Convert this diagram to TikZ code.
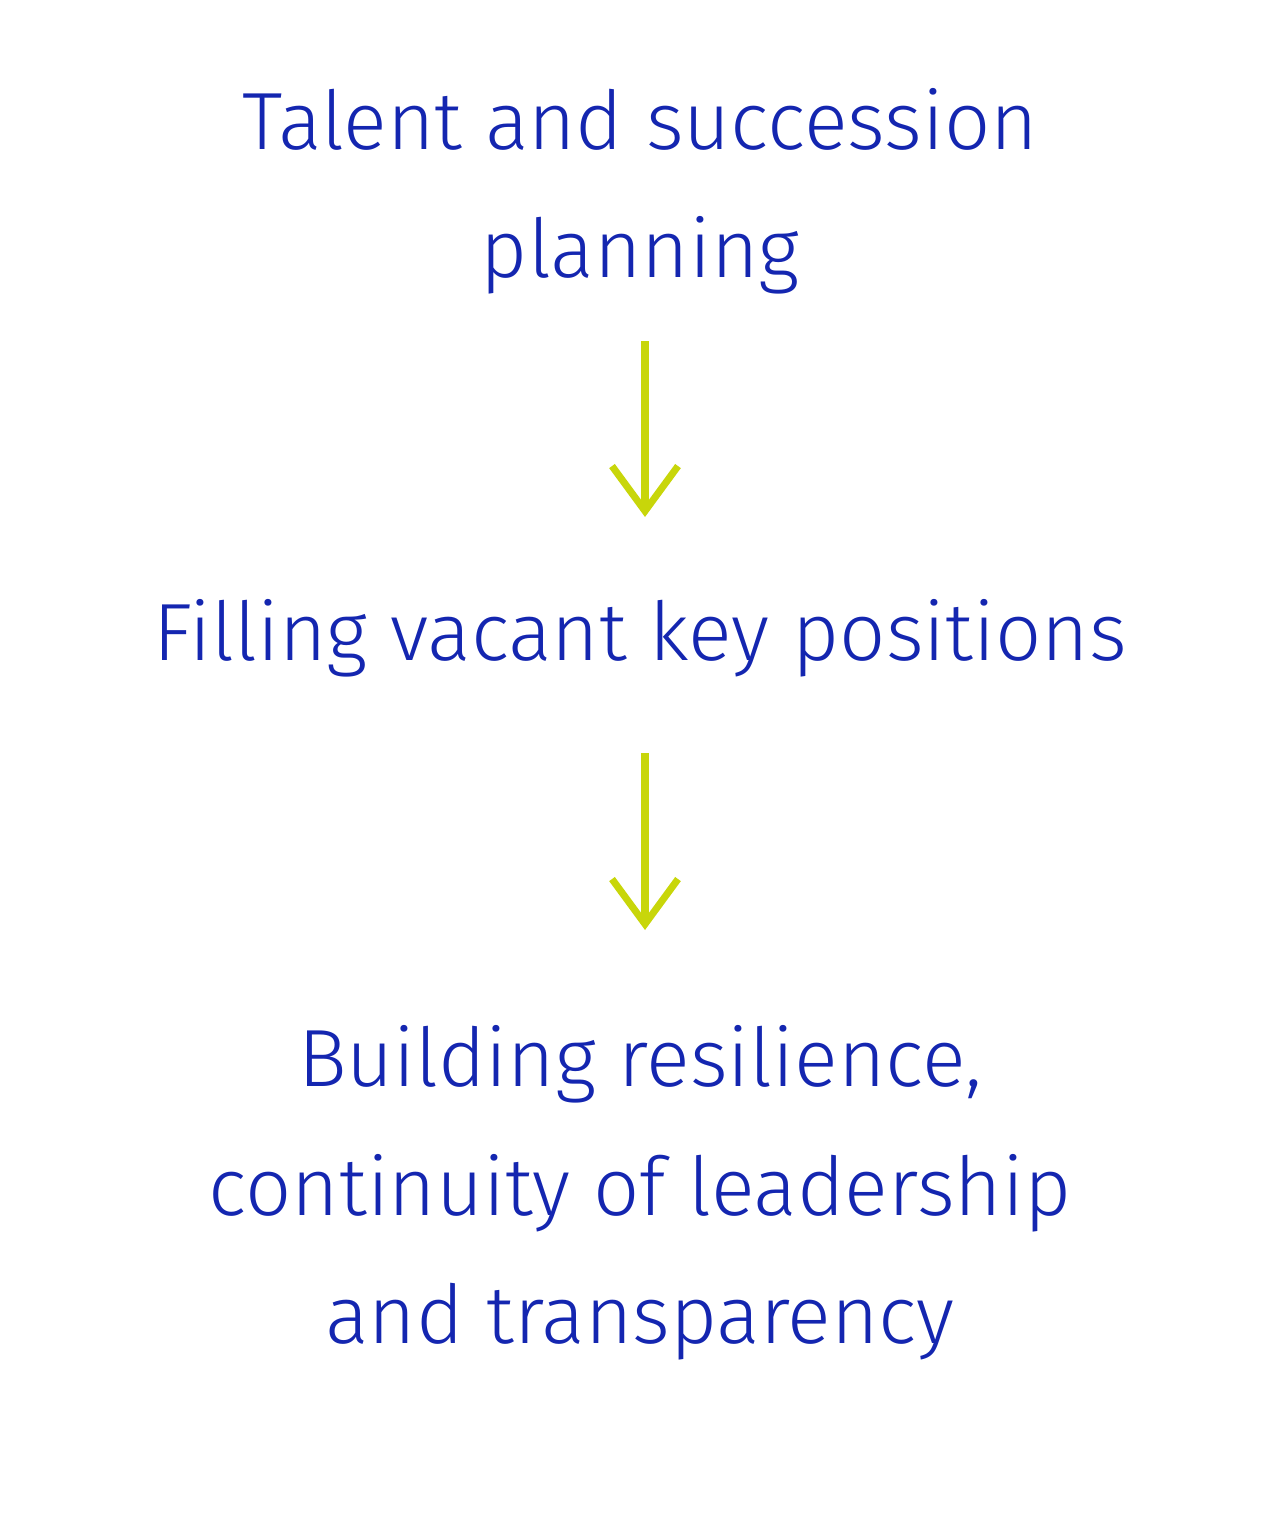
\documentclass[tikz,border=0pt]{standalone}
\usepackage{fontspec}
\setmainfont{Fira Sans Light}
\usetikzlibrary{arrows.meta}
\definecolor{txtblue}{HTML}{1426B0}
\definecolor{arrgreen}{HTML}{C8D60A}
\tikzset{
  label/.style={text=txtblue, align=center, font=\fontsize{23.1pt}{36.5pt}\selectfont, inner sep=0pt},
  flow/.style={draw=arrgreen, line width=2pt, -{Straight Barb[length=0.45cm, width=0.66cm, line width=2pt]}}
}
\begin{document}
\begin{tikzpicture}
\useasboundingbox (0,0) rectangle (12.8,-15.36);
\node[label] (t1) at (6.4,-1.91) {Talent and succession\\planning};
\node[label] (t2) at (6.4,-6.38) {Filling vacant key positions};
\node[label] (t3) at (6.4,-11.93) {Building resilience,\\continuity of leadership\\and transparency};
\coordinate (a1s) at (6.45,-3.41);
\coordinate (a1e) at (6.45,-5.17);
\coordinate (a2s) at (6.45,-7.53);
\coordinate (a2e) at (6.45,-9.30);
\draw[flow] (a1s) -- (a1e);
\draw[flow] (a2s) -- (a2e);
\end{tikzpicture}
\end{document}
